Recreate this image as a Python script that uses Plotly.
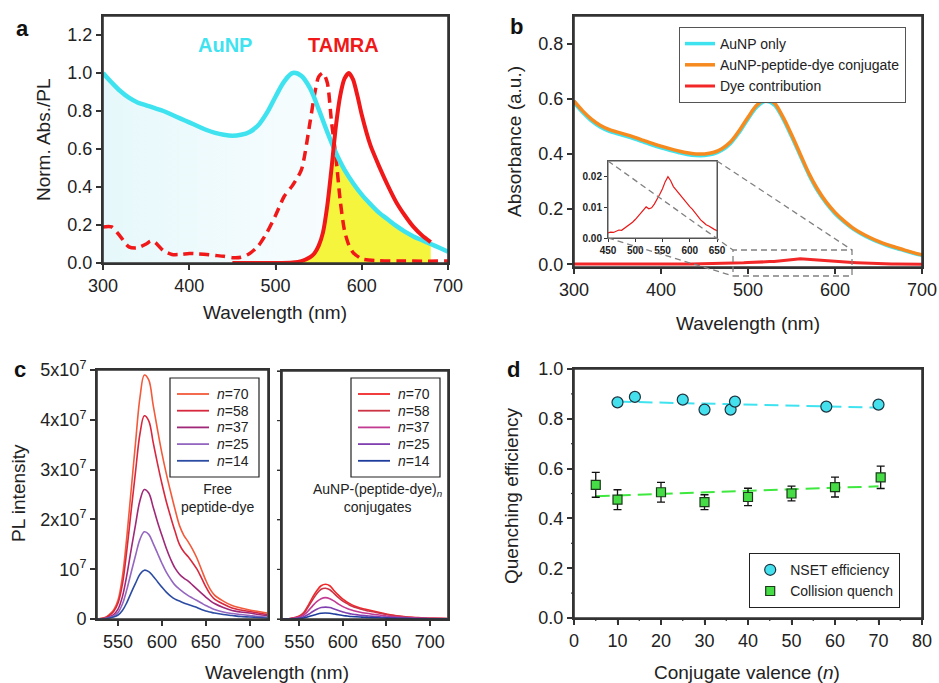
import numpy as np
import plotly.graph_objects as go

FONT = "Liberation Sans, Arial, sans-serif"
W, H = 939, 683

# ---------------- panel a: normalized spectra ----------------
a_wl = np.arange(300, 701, 10)
a_aunp = [1.00, 0.95, 0.905, 0.87, 0.845, 0.83, 0.815, 0.80, 0.78, 0.76,
          0.74, 0.72, 0.70, 0.685, 0.675, 0.67, 0.675, 0.69, 0.725, 0.79,
          0.875, 0.955, 1.00, 0.985, 0.92, 0.81, 0.69, 0.58, 0.49, 0.42,
          0.36, 0.31, 0.265, 0.23, 0.195, 0.165, 0.14, 0.12, 0.10, 0.08,
          0.06]
tamra_abs_wl = [300, 310, 320, 330, 340, 350, 355, 360, 370, 380,
                390, 400, 410, 420, 430, 440, 450, 460, 470, 480,
                490, 500, 510, 520, 530, 540, 545, 550, 555, 560,
                565, 570, 575, 580, 585, 590, 600, 620, 650, 700]
tamra_abs = [0.19, 0.19, 0.14, 0.085, 0.08, 0.10, 0.115, 0.11, 0.065, 0.045,
             0.045, 0.05, 0.048, 0.045, 0.04, 0.035, 0.028, 0.03, 0.05, 0.09,
             0.16, 0.25, 0.35, 0.41, 0.49, 0.74, 0.88, 0.98, 1.0, 0.95,
             0.74, 0.56, 0.33, 0.17, 0.095, 0.055, 0.022, 0.012, 0.01, 0.01]
tamra_em_wl = [450, 500, 520, 530, 540, 545, 550, 555, 560, 565,
               570, 575, 580, 585, 590, 595, 600, 610, 620, 630,
               640, 650, 660, 670, 680]
tamra_em = [0.0, 0.0, 0.003, 0.01, 0.03, 0.05, 0.09, 0.16, 0.30, 0.50,
            0.72, 0.88, 0.97, 1.0, 0.965, 0.88, 0.78, 0.62, 0.51, 0.41,
            0.32, 0.25, 0.19, 0.145, 0.11]

# ---------------- panel b: absorbance ----------------
b_wl = np.arange(300, 701, 10)
b_aunp_only = [0.585, 0.550, 0.520, 0.498, 0.483, 0.473, 0.464, 0.454, 0.443, 0.432,
               0.422, 0.413, 0.405, 0.398, 0.394, 0.394, 0.399, 0.413, 0.438, 0.478,
               0.526, 0.569, 0.591, 0.578, 0.528, 0.463, 0.393, 0.324, 0.266, 0.220,
               0.183, 0.154, 0.129, 0.110, 0.094, 0.080, 0.068, 0.058, 0.049, 0.040,
               0.032]
b_conjugate = [0.592, 0.556, 0.526, 0.504, 0.489, 0.479, 0.470, 0.460, 0.449, 0.438,
               0.428, 0.419, 0.411, 0.404, 0.400, 0.400, 0.405, 0.419, 0.444, 0.485,
               0.533, 0.576, 0.598, 0.585, 0.535, 0.470, 0.400, 0.330, 0.272, 0.225,
               0.188, 0.158, 0.133, 0.113, 0.097, 0.083, 0.071, 0.061, 0.051, 0.042,
               0.034]
dye_wl = np.arange(300, 701, 5)
dye_contrib = [0.0012, 0.0010, 0.0011, 0.0009, 0.0010, 0.0008, 0.0009, 0.0010, 0.0008, 0.0007,
               0.0008, 0.0009, 0.0007, 0.0006, 0.0007, 0.0008, 0.0006, 0.0005, 0.0006, 0.0007,
               0.0005, 0.0006, 0.0008, 0.0007, 0.0009, 0.0010, 0.0011, 0.0012, 0.0013, 0.0015,
               0.0016, 0.0019, 0.0018, 0.0023, 0.0026, 0.0025, 0.0031, 0.0037, 0.0045, 0.0051,
               0.0060, 0.0071, 0.0080, 0.0092, 0.0101, 0.0095, 0.0098, 0.0110, 0.0124, 0.0142,
               0.0160, 0.0183, 0.0199, 0.0186, 0.0167, 0.0156, 0.0143, 0.0134, 0.0123, 0.0112,
               0.0102, 0.0093, 0.0081, 0.0069, 0.0059, 0.0051, 0.0043, 0.0039, 0.0033, 0.0028,
               0.0024, 0.0020, 0.0016, 0.0012, 0.0009, 0.0006, 0.0004, 0.0002, 0.0000, -0.0002,
               -0.0003]

# ---------------- panel c: PL spectra (units of 1e7) ----------------
c_wl = [526, 535, 540, 545, 550, 555, 560, 565, 570, 575, 580, 585, 590, 595, 600,
        605, 610, 615, 620, 625, 630, 635, 640, 645, 650, 655, 660, 670, 680, 690,
        700, 710, 720]
valence_labels = ["70", "58", "37", "25", "14"]
free_pl = {
    "70": [0.00, 0.03, 0.09, 0.18, 0.38, 0.85, 1.65, 2.60, 3.55, 4.45, 4.90, 4.80, 4.30, 3.80, 3.33,
           2.92, 2.55, 2.20, 1.88, 1.68, 1.55, 1.40, 1.22, 1.00, 0.78, 0.60, 0.48, 0.36, 0.27, 0.22,
           0.18, 0.15, 0.12],
    "58": [0.00, 0.02, 0.07, 0.15, 0.32, 0.70, 1.38, 2.18, 2.97, 3.72, 4.08, 3.98, 3.55, 3.12, 2.72,
           2.36, 2.05, 1.76, 1.50, 1.35, 1.25, 1.13, 1.00, 0.83, 0.65, 0.50, 0.40, 0.30, 0.22, 0.18,
           0.15, 0.12, 0.09],
    "37": [0.00, 0.01, 0.04, 0.09, 0.20, 0.45, 0.88, 1.40, 1.90, 2.38, 2.60, 2.53, 2.25, 1.95, 1.68,
           1.42, 1.20, 1.02, 0.90, 0.82, 0.76, 0.68, 0.60, 0.52, 0.44, 0.37, 0.31, 0.23, 0.17, 0.14,
           0.12, 0.09, 0.07],
    "25": [0.00, 0.01, 0.03, 0.06, 0.13, 0.30, 0.59, 0.94, 1.28, 1.60, 1.75, 1.70, 1.52, 1.32, 1.12,
           0.94, 0.80, 0.68, 0.60, 0.53, 0.47, 0.42, 0.37, 0.32, 0.27, 0.23, 0.19, 0.14, 0.11, 0.09,
           0.07, 0.05, 0.04],
    "14": [0.00, 0.00, 0.02, 0.04, 0.08, 0.17, 0.33, 0.53, 0.72, 0.90, 0.98, 0.95, 0.86, 0.75, 0.64,
           0.54, 0.46, 0.40, 0.36, 0.32, 0.29, 0.26, 0.23, 0.19, 0.16, 0.14, 0.12, 0.09, 0.07, 0.05,
           0.04, 0.03, 0.02],
}
conj_pl = {
    "70": [0.00, 0.00, 0.01, 0.03, 0.06, 0.13, 0.27, 0.43, 0.57, 0.67, 0.70, 0.67, 0.57, 0.48, 0.40,
           0.34, 0.29, 0.25, 0.22, 0.20, 0.18, 0.16, 0.14, 0.12, 0.10, 0.085, 0.07, 0.05, 0.035, 0.025,
           0.015, 0.012, 0.01],
    "58": [0.00, 0.00, 0.01, 0.03, 0.05, 0.11, 0.24, 0.38, 0.51, 0.60, 0.62, 0.59, 0.51, 0.43, 0.36,
           0.31, 0.26, 0.23, 0.20, 0.18, 0.16, 0.145, 0.125, 0.11, 0.09, 0.075, 0.065, 0.045, 0.03, 0.02,
           0.015, 0.01, 0.01],
    "37": [0.00, 0.00, 0.01, 0.02, 0.04, 0.08, 0.16, 0.26, 0.35, 0.41, 0.43, 0.41, 0.36, 0.30, 0.25,
           0.21, 0.18, 0.155, 0.135, 0.12, 0.11, 0.095, 0.085, 0.075, 0.062, 0.052, 0.045, 0.032, 0.022,
           0.015, 0.01, 0.008, 0.006],
    "25": [0.00, 0.00, 0.00, 0.01, 0.02, 0.045, 0.09, 0.145, 0.195, 0.23, 0.24, 0.23, 0.20, 0.17, 0.14,
           0.12, 0.10, 0.088, 0.077, 0.068, 0.06, 0.053, 0.047, 0.041, 0.035, 0.03, 0.025, 0.018, 0.012,
           0.008, 0.006, 0.004, 0.003],
    "14": [0.00, 0.00, 0.00, 0.005, 0.01, 0.022, 0.045, 0.072, 0.097, 0.115, 0.12, 0.115, 0.10, 0.085,
           0.07, 0.06, 0.05, 0.044, 0.039, 0.034, 0.03, 0.027, 0.024, 0.021, 0.018, 0.015, 0.013, 0.009,
           0.006, 0.004, 0.003, 0.002, 0.002],
}
PL_UNIT = 1e7
free_colors = ["#f25a3a", "#d8283e", "#a02878", "#9466c0", "#2c4ca4"]
conj_colors = ["#f02828", "#cc3446", "#c23a92", "#8040b0", "#1e3c9c"]

# ---------------- panel d: quenching efficiency ----------------
nset_n = [10, 14, 25, 30, 36, 37, 58, 70]
nset_eff = [0.866, 0.888, 0.877, 0.837, 0.837, 0.869, 0.849, 0.857]
nset_fit_n = [10, 70]
nset_fit = [0.869, 0.845]
coll_n = [5, 10, 20, 30, 40, 50, 60, 70.5]
coll_eff = [0.535, 0.475, 0.505, 0.465, 0.486, 0.500, 0.526, 0.565]
coll_err = [0.050, 0.040, 0.040, 0.030, 0.035, 0.030, 0.040, 0.045]
coll_fit_n = [5, 70]
coll_fit = [0.489, 0.529]

# tick values per panel
wl_ticks = [300, 400, 500, 600, 700]
a_yticks = [0, 0.2, 0.4, 0.6, 0.8, 1.0, 1.2]
b_yticks = [0, 0.2, 0.4, 0.6, 0.8]
c_xticks = [550, 600, 650, 700]
c_yticks = [0, 1e7, 2e7, 3e7, 4e7, 5e7]
d_xticks = list(range(0, 81, 10))
d_yticks = [0, 0.2, 0.4, 0.6, 0.8, 1.0]
d_xminor = list(range(5, 80, 10))
d_yminor = [0.1, 0.3, 0.5, 0.7, 0.9]

# panel geometry in pixels: (left, right, top, bottom) and axis ranges
GEOM = {
    "a": dict(box=(103, 448, 16, 263), xr=[300, 700], yr=[0, 1.3]),
    "b": dict(box=(574, 922, 16, 267), xr=[300, 700], yr=[-0.01, 0.9]),
    "inset": dict(box=(608, 717, 161, 238), xr=[450, 650], yr=[0, 0.025]),
    "c1": dict(box=(97, 268, 370, 619), xr=[526, 721], yr=[0, 5e7]),
    "c2": dict(box=(282, 448, 371, 619), xr=[530, 721], yr=[0, 5e7]),
    "d": dict(box=(574, 922, 369, 618), xr=[0, 80], yr=[0, 1.0]),
}


def px(x):
    return x / W


def py(y):
    return 1 - y / H


def dom(key):
    l, r, t, b = GEOM[key]["box"]
    return [l / W, r / W], [1 - b / H, 1 - t / H]


fig = go.Figure()

CYAN = "#3fe3f0"
RED = "#f01818"

# panel a
fig.add_trace(go.Scatter(
    x=a_wl, y=a_aunp, mode="lines", line=dict(width=0, shape="spline"),
    fill="tozeroy",
    fillgradient=dict(type="horizontal",
                      colorscale=[[0, "#e6f8fb"], [0.55, "#f5fcfe"], [1, "#ffffff"]]),
    hoverinfo="skip", showlegend=False, xaxis="x", yaxis="y"))
overlap = np.minimum(np.array(tamra_em), np.interp(tamra_em_wl, a_wl, a_aunp))
fig.add_trace(go.Scatter(
    x=tamra_em_wl, y=overlap, mode="lines", line=dict(width=0, shape="spline", smoothing=0.6),
    fill="tozeroy", fillcolor="#f6f53e", hoverinfo="skip", showlegend=False,
    xaxis="x", yaxis="y"))
fig.add_trace(go.Scatter(
    x=tamra_abs_wl, y=tamra_abs, mode="lines",
    line=dict(color=RED, width=3.5, dash="10px,6px", shape="spline", smoothing=0.7),
    showlegend=False, xaxis="x", yaxis="y"))
fig.add_trace(go.Scatter(
    x=a_wl, y=a_aunp, mode="lines", line=dict(color=CYAN, width=4.5, shape="spline"),
    showlegend=False, xaxis="x", yaxis="y"))
fig.add_trace(go.Scatter(
    x=tamra_em_wl, y=tamra_em, mode="lines",
    line=dict(color=RED, width=4, shape="spline", smoothing=0.6),
    showlegend=False, xaxis="x", yaxis="y"))

# panel b
fig.add_trace(go.Scatter(
    x=b_wl, y=b_aunp_only, mode="lines", name="AuNP only",
    line=dict(color="#3fe3ef", width=3.5, shape="spline"),
    legend="legend", xaxis="x2", yaxis="y2"))
fig.add_trace(go.Scatter(
    x=b_wl, y=b_conjugate, mode="lines", name="AuNP-peptide-dye conjugate",
    line=dict(color="#f68a1e", width=3.5, shape="spline"),
    legend="legend", xaxis="x2", yaxis="y2"))
fig.add_trace(go.Scatter(
    x=dye_wl, y=dye_contrib, mode="lines", name="Dye contribution",
    line=dict(color="#f22828", width=3),
    legend="legend", xaxis="x2", yaxis="y2"))
# inset: dye contribution zoomed
fig.add_trace(go.Scatter(
    x=dye_wl, y=dye_contrib, mode="lines", line=dict(color="#e81818", width=1.2),
    showlegend=False, xaxis="x3", yaxis="y3"))

# panel c (keys drawn as a compact boxed list below)
for lab, col in zip(valence_labels, free_colors):
    fig.add_trace(go.Scatter(
        x=c_wl, y=np.array(free_pl[lab]) * PL_UNIT, mode="lines",
        name=f"<i>n</i>={lab}", line=dict(color=col, width=1.6, shape="spline"),
        showlegend=False, xaxis="x4", yaxis="y4"))
for lab, col in zip(valence_labels, conj_colors):
    fig.add_trace(go.Scatter(
        x=c_wl, y=np.array(conj_pl[lab]) * PL_UNIT, mode="lines",
        name=f"<i>n</i>={lab}", line=dict(color=col, width=1.6, shape="spline"),
        showlegend=False, xaxis="x5", yaxis="y5"))

# panel d
fig.add_trace(go.Scatter(
    x=nset_fit_n, y=nset_fit, mode="lines", line=dict(color="#3fe3f0", width=2, dash="14px,7px"),
    showlegend=False, xaxis="x6", yaxis="y6"))
fig.add_trace(go.Scatter(
    x=coll_fit_n, y=coll_fit, mode="lines", line=dict(color="#3ee83e", width=2, dash="14px,7px"),
    showlegend=False, xaxis="x6", yaxis="y6"))
fig.add_trace(go.Scatter(
    x=nset_n, y=nset_eff, mode="markers", name="NSET efficiency",
    marker=dict(symbol="circle", size=11, color="#45e0ee", line=dict(color="#1d3440", width=1.2)),
    legend="legend2", xaxis="x6", yaxis="y6"))
fig.add_trace(go.Scatter(
    x=coll_n, y=coll_eff, mode="markers", name="Collision quench",
    error_y=dict(type="data", array=coll_err, color="#111", thickness=1.3, width=4),
    marker=dict(symbol="square", size=9, color="#46dc46", line=dict(color="#1a3a1a", width=1.2)),
    legend="legend2", xaxis="x6", yaxis="y6"))


def axis(key, which, **kw):
    xdom, ydom = dom(key)
    base = dict(showline=True, mirror=True, linecolor="#333333", linewidth=2,
                ticks="outside", ticklen=5, tickwidth=1.5, tickcolor="#333333",
                showgrid=False, zeroline=False, automargin=False,
                domain=xdom if which == "x" else ydom,
                range=GEOM[key]["xr"] if which == "x" else GEOM[key]["yr"],
                tickfont=dict(family=FONT, size=18, color="#222"))
    base.update(kw)
    return base


inset_font = dict(family=FONT, size=10, color="#222", weight="bold")
layout = dict(
    template="none",
    width=W, height=H, margin=dict(l=0, r=0, t=0, b=0, autoexpand=False),
    paper_bgcolor="white", plot_bgcolor="white",
    font=dict(family=FONT, color="#222"),
    xaxis=axis("a", "x", tickvals=wl_ticks, anchor="y"),
    yaxis=axis("a", "y", tickvals=a_yticks, tickformat=".1f", anchor="x"),
    xaxis2=axis("b", "x", tickvals=wl_ticks, anchor="y2"),
    yaxis2=axis("b", "y", tickvals=b_yticks, tickformat=".1f", anchor="x2"),
    xaxis3=axis("inset", "x", tickvals=[450, 500, 550, 600, 650], anchor="y3",
                linecolor="#555555", linewidth=1, tickwidth=1, ticklen=3, tickfont=inset_font),
    yaxis3=axis("inset", "y", tickvals=[0, 0.01, 0.02], ticktext=["0.00", "0.01", "0.02"],
                anchor="x3", linecolor="#555555", linewidth=1, tickwidth=1, ticklen=3,
                tickfont=inset_font),
    xaxis4=axis("c1", "x", tickvals=c_xticks, anchor="y4"),
    yaxis4=axis("c1", "y", tickvals=c_yticks,
                ticktext=["0", "10<sup>7</sup>", "2x10<sup>7</sup>", "3x10<sup>7</sup>",
                          "4x10<sup>7</sup>", "5x10<sup>7</sup>"], anchor="x4"),
    xaxis5=axis("c2", "x", tickvals=c_xticks, anchor="y5"),
    yaxis5=axis("c2", "y", tickvals=c_yticks, showticklabels=False, ticklen=3, tickwidth=1,
                anchor="x5"),
    xaxis6=axis("d", "x", tickvals=d_xticks, anchor="y6"),
    yaxis6=axis("d", "y", tickvals=d_yticks, tickformat=".1f", anchor="x6"),
    legend=dict(x=px(679), y=py(27), xanchor="left", yanchor="top", bgcolor="white",
                bordercolor="#555", borderwidth=1, font=dict(family=FONT, size=14, color="#222"),
                itemwidth=30),
    legend2=dict(x=px(749), y=py(553), xanchor="left", yanchor="top", bgcolor="white",
                 bordercolor="#222", borderwidth=1.2, font=dict(family=FONT, size=14, color="#222"),
                 itemwidth=30),
)
fig.update_layout(**layout)

FRAME = dict(color="#333333", width=1.6)
shapes = []


def seg(x0, y0, x1, y1, line):
    return dict(type="line", xref="paper", yref="paper", x0=px(x0), y0=py(y0), x1=px(x1),
                y1=py(y1), line=line, layer="above")


def x_pos(key, v):
    l, r, _, _ = GEOM[key]["box"]
    r0, r1 = GEOM[key]["xr"]
    return l + (v - r0) / (r1 - r0) * (r - l)


def y_pos(key, v):
    _, _, t, b = GEOM[key]["box"]
    r0, r1 = GEOM[key]["yr"]
    return b - (v - r0) / (r1 - r0) * (b - t)


# frames and outward tick marks for each panel
tick_spec = [
    ("a", wl_ticks, a_yticks, [], []),
    ("b", wl_ticks, b_yticks, [], []),
    ("c1", c_xticks, c_yticks, [], []),
    ("c2", c_xticks, c_yticks, [], []),
    ("d", d_xticks, d_yticks, d_xminor, d_yminor),
]
for key, xt, yt, xm, ym in tick_spec:
    l, r, t, b = GEOM[key]["box"]
    shapes.append(dict(type="rect", xref="paper", yref="paper", x0=px(l), x1=px(r),
                       y0=py(b), y1=py(t), line=FRAME, layer="above"))
    tick_line = dict(color="#333333", width=1.2)
    for v in xt:
        xp = x_pos(key, v)
        shapes.append(seg(xp, b, xp, b + 5, tick_line))
    for v in yt:
        yp = y_pos(key, v)
        shapes.append(seg(l, yp, l - 5, yp, tick_line))
    for v in xm:
        xp = x_pos(key, v)
        shapes.append(seg(xp, b, xp, b + 3, tick_line))
    for v in ym:
        yp = y_pos(key, v)
        shapes.append(seg(l, yp, l - 3, yp, tick_line))

# inset frame
il, ir, it, ib = GEOM["inset"]["box"]
shapes.append(dict(type="rect", xref="paper", yref="paper", x0=px(il), x1=px(ir),
                   y0=py(ib), y1=py(it), line=dict(color="#555555", width=1), layer="above"))

# zoom guides linking the inset to the boxed region of panel b
guide = dict(color="#808080", width=1.3, dash="6px,4px")
shapes += [
    dict(type="rect", xref="paper", yref="paper", x0=px(733), x1=px(852), y0=py(276), y1=py(250),
         line=guide),
    dict(type="line", xref="paper", yref="paper", x0=px(608), y0=py(161), x1=px(733), y1=py(250),
         line=guide),
    dict(type="line", xref="paper", yref="paper", x0=px(717), y0=py(161), x1=px(852), y1=py(250),
         line=guide),
    dict(type="line", xref="paper", yref="paper", x0=px(608), y0=py(238), x1=px(733), y1=py(276),
         line=guide),
]


def note(text, x, y, size=19, color="#222", bold=False, angle=0, xanchor="center"):
    return dict(text=f"<b>{text}</b>" if bold else text, x=px(x), y=py(y), xref="paper",
                yref="paper", showarrow=False, xanchor=xanchor, yanchor="middle", textangle=angle,
                font=dict(family=FONT, size=size, color=color))


annotations = [
    note("a", 22, 28, size=22, color="#111", bold=True),
    note("b", 516, 27, size=22, color="#111", bold=True),
    note("c", 20, 369, size=22, color="#111", bold=True),
    note("d", 513, 369, size=22, color="#111", bold=True),
    note("AuNP", 225, 45, size=20, color=CYAN, bold=True),
    note("TAMRA", 343, 45, size=20, color=RED, bold=True),
    note("Wavelength (nm)", 275, 313),
    note("Norm. Abs./PL", 43, 140, angle=-90),
    note("Wavelength (nm)", 748, 323),
    note("Absorbance (a.u.)", 515, 142, angle=-90),
    note("PL intensity", 18, 493, angle=-90),
    note("Wavelength (nm)", 277, 672),
    note("Free<br>peptide-dye", 217, 498, size=14),
    note("AuNP-(peptide-dye)<sub><i>n</i></sub><br>conjugates", 377, 498, size=14),
    note("Quenching efficiency", 511, 496, angle=-90),
    note("Conjugate valence (<i>n</i>)", 747, 672),
]

# boxed keys for the two PL panels
for box_left, colors in ((170, free_colors), (351, conj_colors)):
    shapes.append(dict(type="rect", xref="paper", yref="paper",
                       x0=px(box_left), x1=px(box_left + 89), y0=py(477), y1=py(378),
                       line=dict(color="#222", width=1.2), fillcolor="white", layer="above"))
    for i, (lab, col) in enumerate(zip(valence_labels, colors)):
        row_y = 394 + i * 16.7
        shapes.append(seg(box_left + 7, row_y, box_left + 39, row_y, dict(color=col, width=1.8)))
        annotations.append(note(f"<i>n</i>={lab}", box_left + 45, row_y, size=14,
                                xanchor="left"))

fig.update_layout(shapes=shapes, annotations=annotations)

fig.write_html("out.html")
